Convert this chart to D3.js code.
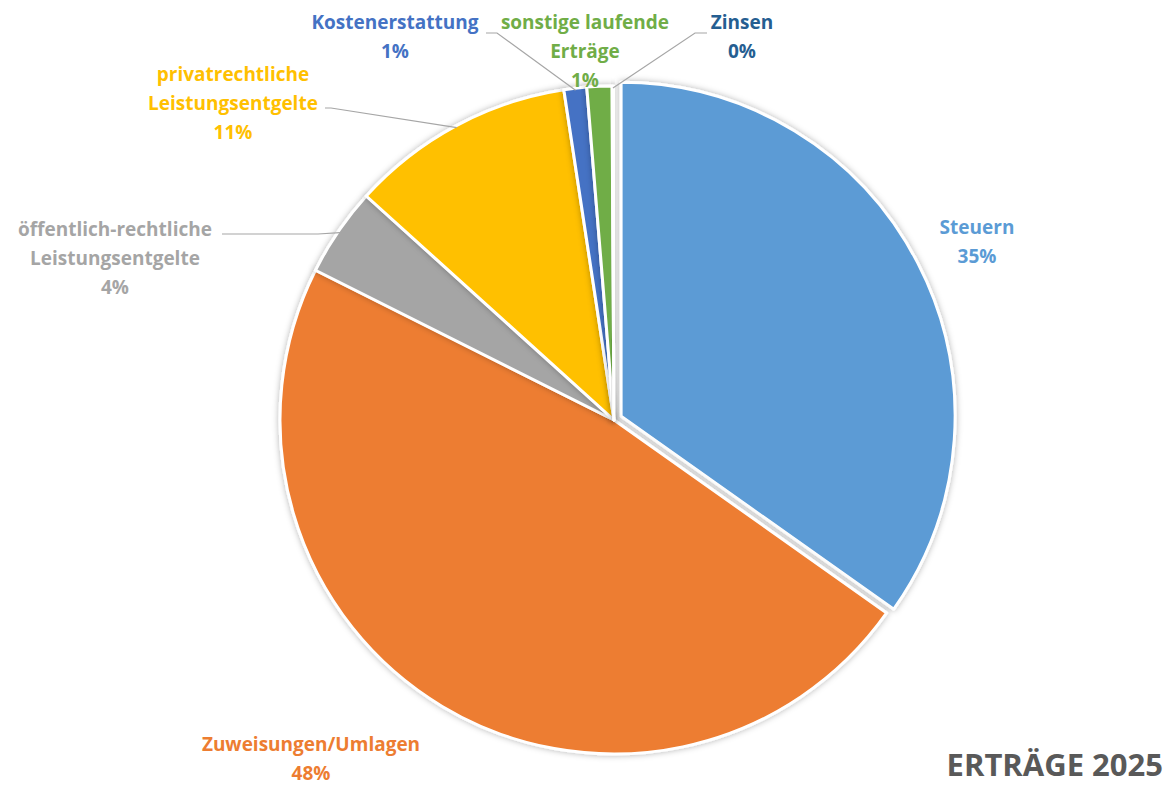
<!DOCTYPE html>
<html><head><meta charset="utf-8">
<script src="https://cdn.jsdelivr.net/npm/d3@7"></script>
<style>html,body{margin:0;padding:0;background:#fff;}svg{display:block;}</style>
</head><body>
<svg id="chart" width="1169" height="786"></svg>
<script>
// ---- data ----
const categories = ["Steuern","Zuweisungen/Umlagen","öffentlich-rechtliche Leistungsentgelte","privatrechtliche Leistungsentgelte","Kostenerstattung","sonstige laufende Erträge","Zinsen"];
const values = [34.8, 47.6, 4.3, 10.9, 1.1, 1.2, 0.1];
const labelLines = [["Steuern"],["Zuweisungen/Umlagen"],["öffentlich-rechtliche","Leistungsentgelte"],["privatrechtliche","Leistungsentgelte"],["Kostenerstattung"],["sonstige laufende","Erträge"],["Zinsen"]];
const colors = ["#5B9BD5","#ED7D31","#A5A5A5","#FFC000","#4472C4","#70AD47","#255E91"];
const title = "ERTRÄGE 2025";

// ---- layout ----
const cx = 614, cy = 420, R = 334;
const explode = [8,0,0,0,0,0,0];
const fontSize = 19, lineH = 29;
const labelLayout = [
  {x: 977, y: 227, leader: null},
  {x: 311, y: 744, leader: null},
  {x: 115, y: 229, leader: {x0: 222, y0: 234, ex: 318}},
  {x: 233, y: 74, leader: {x0: 325, y0: 108, ex: 331}},
  {x: 395, y: 22, leader: {x0: 486, y0: 33, ex: 497}},
  {x: 585, y: 22, leader: null},
  {x: 742, y: 22, leader: {x0: 707, y0: 33, ex: 695}}
];

const svg = d3.select("#chart");
const defs = svg.append("defs");
const f = defs.append("filter").attr("id","sh").attr("x","-20%").attr("y","-20%").attr("width","140%").attr("height","140%");
f.append("feDropShadow").attr("dx",0).attr("dy",0).attr("stdDeviation",3).attr("flood-color","#000").attr("flood-opacity",0.3);

const data = categories.map((c,i)=>({cat:c, value:values[i], i}));
const pie = d3.pie().value(d=>d.value).sort(null);
const arcs = pie(data);
const arc = d3.arc().innerRadius(0).outerRadius(R);

const g = svg.append("g").attr("transform",`translate(${cx},${cy})`);
g.selectAll("path.slice").data(arcs).join("path")
  .attr("class","slice")
  .attr("d",arc)
  .attr("fill",d=>colors[d.data.i])
  .attr("stroke","#fff").attr("stroke-width",3).attr("stroke-linejoin","round")
  .attr("filter","url(#sh)")
  .attr("transform",d=>{
    const a=(d.startAngle+d.endAngle)/2, e=explode[d.data.i];
    return `translate(${e*Math.sin(a)},${-e*Math.cos(a)})`;
  });

// leader lines
arcs.forEach(d=>{
  const L = labelLayout[d.data.i].leader;
  if(!L) return;
  const a=(d.startAngle+d.endAngle)/2;
  const px = cx + (R-2)*Math.sin(a), py = cy - (R-2)*Math.cos(a);
  svg.append("polyline")
    .attr("points",`${L.x0},${L.y0} ${L.ex},${L.y0} ${px},${py}`)
    .attr("fill","none").attr("stroke","#A6A6A6").attr("stroke-width",1.2);
});

// labels
const fmt = v => Math.round(v) + "%";
arcs.forEach(d=>{
  const i=d.data.i, L=labelLayout[i];
  const lines = labelLines[i].concat([fmt(values[i])]);
  const t = svg.append("text")
    .attr("x",L.x).attr("y",L.y)
    .attr("text-anchor","middle").attr("dominant-baseline","central")
    .attr("font-family","'Open Sans', sans-serif").attr("font-weight","bold")
    .attr("font-size",fontSize).attr("fill",colors[i]);
  lines.forEach((s,k)=>t.append("tspan").attr("x",L.x).attr("dy",k===0?0:lineH).text(s));
});

svg.append("text").attr("x",1163).attr("y",776)
  .attr("text-anchor","end")
  .attr("font-family","'Open Sans', sans-serif").attr("font-weight","bold")
  .attr("font-size",31).attr("fill","#595959").text(title);
</script>
</body></html>
